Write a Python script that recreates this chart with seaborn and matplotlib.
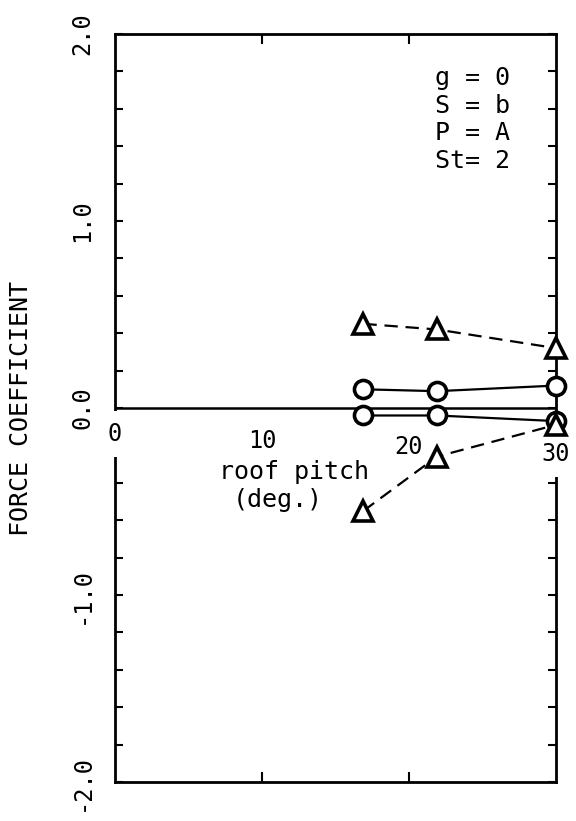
import numpy as np
import pandas as pd
import matplotlib
matplotlib.use("Agg")
import matplotlib.pyplot as plt
from matplotlib.ticker import MultipleLocator
import seaborn as sns

# roof pitch (deg.) of the tested models
pitch = [16.9, 21.9, 30]

# force coefficients
tri_upper = [0.45, 0.42, 0.32]
circ_upper = [0.10, 0.09, 0.12]
circ_lower = [-0.04, -0.04, -0.07]
tri_lower = [-0.55, -0.26, -0.09]

xtick_vals = [0, 10, 20, 30]
ytick_vals = [-2, -1, 0, 1, 2]
ytick_labels = ["-2.0", "-1.0", "0.0", "1.0", "2.0"]
params_text = "g = 0\nS = b\nP = A\nSt= 2"

sns.set_style("ticks")
plt.rcParams['font.family'] = ['DejaVu Sans Mono', 'DejaVu Sans']
plt.rcParams.update({'text.color': 'black', 'axes.labelcolor': 'black',
                     'xtick.color': 'black', 'ytick.color': 'black'})

fig = plt.figure(figsize=(5.76, 8.21), dpi=100)
ax = fig.add_axes([115/576, 1 - 782/821, 441/576, 748/821])

mk = dict(markerfacecolor='white', markeredgecolor='black', markeredgewidth=2.6,
          color='black', linewidth=1.6, zorder=5, clip_on=False)

sns.lineplot(x=pitch, y=tri_upper, ax=ax, marker='^', markersize=14,
             linestyle=(0, (6, 3.5)), **mk)
sns.lineplot(x=pitch, y=circ_upper, ax=ax, marker='o', markersize=13,
             linestyle='-', **mk)
sns.lineplot(x=pitch, y=circ_lower, ax=ax, marker='o', markersize=13,
             linestyle='-', **mk)
sns.lineplot(x=pitch, y=tri_lower, ax=ax, marker='^', markersize=14,
             linestyle=(0, (6, 3.5)), **mk)

ax.axhline(0, color='black', lw=1.8, zorder=4)

ax.set_xlim(0, 30)
ax.set_ylim(-2, 2)

for s in ax.spines.values():
    s.set_linewidth(2)
    s.set_color('black')

# x ticks: marks on the frame, labels along the zero line
ax.set_xticks([10, 20])
ax.tick_params(axis='x', top=True, bottom=True, direction='in', length=7,
               width=1.5, labelbottom=False)
for xv in xtick_vals:
    ax.text(xv, -0.14 - 0.0035 * xv, str(xv), ha='center', va='center',
            fontsize=17, zorder=3,
            bbox=dict(facecolor='white', edgecolor='none', pad=8))

ax.set_yticks(ytick_vals)
ax.set_yticklabels(ytick_labels, rotation=90, va='center', fontsize=17)
ax.yaxis.set_minor_locator(MultipleLocator(0.2))
ax.tick_params(axis='y', which='both', left=True, right=True, direction='in',
               length=6, width=1.5, pad=15)

ax.set_xlabel('')
ax.set_ylabel('FORCE COEFFICIENT', fontsize=18)
ax.yaxis.set_label_coords(-94/441, 0.5)
ax.yaxis.label.set_verticalalignment('center')

ax.text(12.2, -0.34, 'roof pitch', ha='center', va='center', fontsize=18)
ax.text(11.1, -0.49, '(deg.)', ha='center', va='center', fontsize=18)

ax.text(21.8, 1.83, params_text, ha='left', va='top', fontsize=18,
        linespacing=1.2)

plt.savefig('out.png', dpi=100)
